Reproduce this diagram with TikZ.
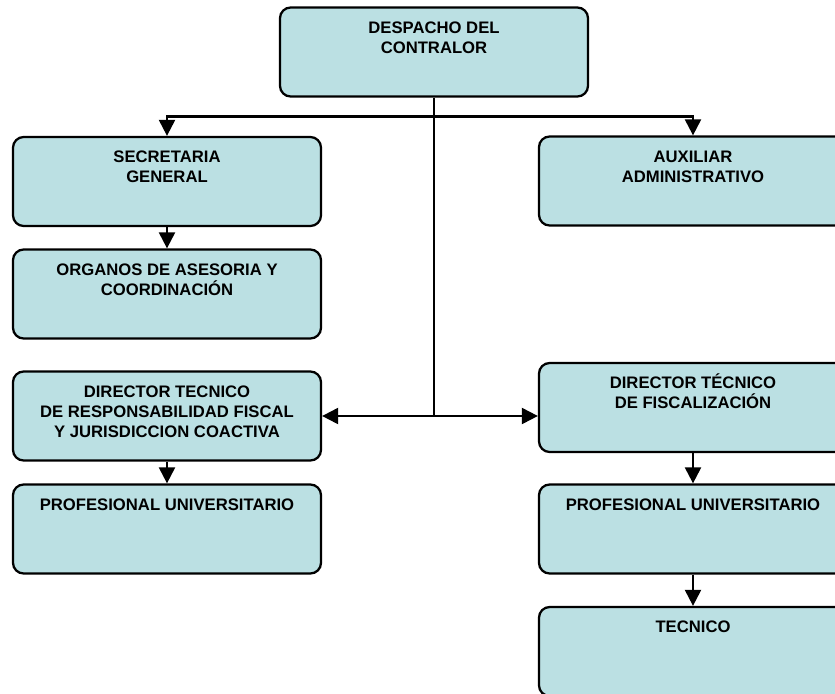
\documentclass[tikz,border=0pt]{standalone}
\usepackage{fontspec}
\setmainfont{Liberation Sans}
\usetikzlibrary{arrows.meta}
\definecolor{boxfill}{RGB}{187,224,227}
\begin{document}
\begin{tikzpicture}[x=0.75pt,y=-0.75pt,
  box/.style={draw=black, line width=1.7pt, fill=boxfill, rounded corners=8pt,
    minimum width=308*0.75pt, minimum height=89*0.75pt, inner sep=0pt},
  lbl/.style={anchor=north, inner sep=0pt, yshift=-7.8pt, align=center,
    font=\fontsize{12.5}{15}\selectfont\bfseries},
  conn/.style={line width=1.6pt, draw=black},
  arr/.style={conn, -{Triangle[width=12pt,length=12pt]}}
]
\useasboundingbox (0,0) rectangle (835,693);
\clip (0,0) rectangle (835,693);
\node[box, label={[lbl]north:\rule{0pt}{12pt}DESPACHO DEL\\CONTRALOR}] (top) at (434,52) {};
\node[box, label={[lbl]north:\rule{0pt}{12pt}SECRETARIA\\GENERAL}] (sec) at (167,181.5) {};
\node[box, label={[lbl]north:\rule{0pt}{12pt}AUXILIAR\\ADMINISTRATIVO}] (aux) at (693,181) {};
\node[box, label={[lbl]north:\rule{0pt}{12pt}ORGANOS DE ASESORIA Y\\COORDINACIÓN}] (org) at (167,294) {};
\node[box, label={[lbl]north:\rule{0pt}{12pt}DIRECTOR TECNICO\\DE RESPONSABILIDAD FISCAL\\Y JURISDICCION COACTIVA}] (dirL) at (167,416) {};
\node[box, label={[lbl]north:\rule{0pt}{12pt}PROFESIONAL UNIVERSITARIO}] (profL) at (167,529) {};
\node[box, label={[lbl]north:\rule{0pt}{12pt}DIRECTOR TÉCNICO\\DE FISCALIZACIÓN}] (dirR) at (693,407.5) {};
\node[box, label={[lbl]north:\rule{0pt}{12pt}PROFESIONAL UNIVERSITARIO}] (profR) at (693,529) {};
\node[box, label={[lbl]north:\rule{0pt}{12pt}TECNICO}] (tec) at (693,651.5) {};
\coordinate (bar) at (434,116.5);
\coordinate (hub) at (434,416);
\draw[conn] (top.south) -- (hub);
\draw[arr] (bar) -| (sec.north);
\draw[arr] (bar) -| (aux.north);
\draw[arr] (hub) -- (dirL.east |- hub);
\draw[arr] (hub) -- (dirR.west |- hub);
\draw[arr] (sec) -- (org);
\draw[arr] (dirL) -- (profL);
\draw[arr] (dirR) -- (profR);
\draw[arr] (profR) -- (tec);
\end{tikzpicture}
\end{document}
